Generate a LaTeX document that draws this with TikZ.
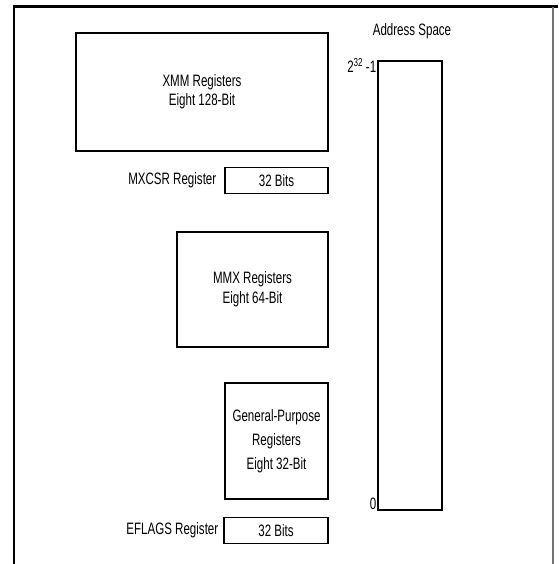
\documentclass[tikz,border=0pt]{standalone}
\usepackage{fontspec}
\setmainfont{Liberation Sans}[FakeStretch=0.7]
\usepackage{tikz}
\usetikzlibrary{positioning}
\tikzset{
  regbox/.style={
    rectangle, draw=black, line width=1.1pt,
    inner sep=0pt, align=center,
    font=\fontsize{16.5}{19}\selectfont
  },
  bitbox/.style={
    regbox, minimum height=26pt
  },
  reglabel/.style={font=\fontsize{16.5}{18}\selectfont, inner sep=0pt},
  frameline/.style={line width=2pt, black}
}

\begin{document}
\begin{tikzpicture}[x=1pt, y=-1pt]
        \useasboundingbox (0,0) rectangle (558,564);
        % outer frame
        \draw[frameline, line width=3pt] (13,7) -- (558,7);
        \draw[frameline] (14,7) -- (14,564);
        \draw[frameline, black!55] (553,7) -- (553,564);
        % register boxes
        \node[regbox, minimum width=252pt, minimum height=118pt] (xmm) at (202,92) {XMM Registers\\Eight 128-Bit};
        \node[bitbox, minimum width=103pt] (mxcsr) at (276.5,180.5) {32 Bits};
        \node[regbox, minimum width=151pt, minimum height=115pt, font=\fontsize{16.5}{20}\selectfont] (mmx) at (252.5,289.5) {MMX Registers\\Eight 64-Bit};
        \node[regbox, minimum width=103pt, minimum height=116pt, font=\fontsize{16.5}{24}\selectfont] (gpr) at (276.5,441) {General-Purpose\\Registers\\Eight 32-Bit};
        \node[bitbox, minimum width=104pt] (eflags) at (276,530.5) {32 Bits};
        \node[reglabel, left=8pt of mxcsr] (mxcsrlbl) {MXCSR Register};
        \node[reglabel, left=5pt of eflags] (eflagslbl) {EFLAGS Register};
        % address space
        \node[regbox, minimum width=64pt, minimum height=449pt] (addr) at (410,285.5) {};
        \node[reglabel, above=21pt of addr.north, xshift=2pt] (addrlbl) {Address Space};
        \node[reglabel, anchor=north east, inner sep=1pt, yshift=3pt] (addrtop) at (addr.north west) {2\textsuperscript{32}\,-1};
        \node[reglabel, anchor=south east, inner sep=1pt] (addrzero) at (addr.south west) {0};
      \end{tikzpicture}
\end{document}
